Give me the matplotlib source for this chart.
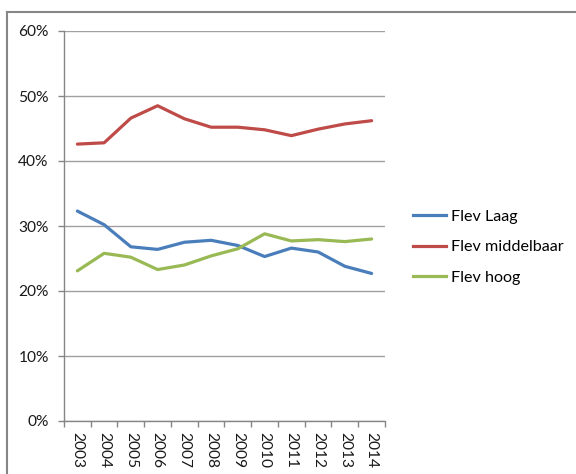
import matplotlib
matplotlib.use("Agg")
import matplotlib.pyplot as plt
from matplotlib.lines import Line2D
from matplotlib.ticker import FixedLocator, NullFormatter

plt.rcParams['font.family'] = ['Lato', 'DejaVu Sans']

years = ["2003", "2004", "2005", "2006", "2007", "2008",
         "2009", "2010", "2011", "2012", "2013", "2014"]
flev_laag = [32.3, 30.2, 26.8, 26.4, 27.5, 27.8, 27.0, 25.3, 26.6, 26.0, 23.8, 22.7]
flev_middelbaar = [42.6, 42.8, 46.6, 48.5, 46.5, 45.2, 45.2, 44.8, 43.9, 44.9, 45.7, 46.2]
flev_hoog = [23.1, 25.8, 25.2, 23.3, 24.0, 25.4, 26.5, 28.8, 27.7, 27.9, 27.6, 28.0]
y_ticks = [0, 10, 20, 30, 40, 50, 60]

series = [
    ("Flev Laag", flev_laag, "#4A7EBB"),
    ("Flev middelbaar", flev_middelbaar, "#BE4B48"),
    ("Flev hoog", flev_hoog, "#98B954"),
]

grey = "#868686"
grid_grey = "#a0a0a0"
text_col = "#1a1a1a"

fig = plt.figure(figsize=(5.76, 4.74), dpi=100)
ax = fig.add_axes([64 / 576, 1 - 421 / 474, (385 - 64) / 576, (421 - 31) / 474])

x = list(range(len(years)))
for name, vals, col in series:
    ax.plot(x, vals, color=col, lw=2.3, label=name, solid_capstyle='round',
            solid_joinstyle='round', zorder=3)

ax.set_xlim(-0.5, len(years) - 0.5)
ax.set_ylim(0, 60)

ax.set_yticks(y_ticks)
ax.set_yticklabels([f"{v}%" for v in y_ticks], fontsize=11.2, color=text_col)
ax.yaxis.grid(True, color=grid_grey, lw=1.0)
ax.set_axisbelow(True)

ax.set_xticks(x)
ax.set_xticklabels(years, rotation=-90, fontsize=11.2, color=text_col)
ax.tick_params(axis='x', which='major', length=0, pad=8)
ax.xaxis.set_minor_locator(FixedLocator([i - 0.5 for i in range(len(years) + 1)]))
ax.xaxis.set_minor_formatter(NullFormatter())
ax.tick_params(axis='x', which='minor', length=4, color=grey, width=1.0)
ax.tick_params(axis='y', length=4, color=grey, width=1.0, pad=7)

for side in ("top", "right"):
    ax.spines[side].set_visible(False)
for side in ("left", "bottom"):
    ax.spines[side].set_color(grey)
    ax.spines[side].set_linewidth(1.0)

handles = [Line2D([0], [0], color=c, lw=2.3) for _, _, c in series]
fig.legend(handles, [n for n, _, _ in series], loc="upper left",
           bbox_to_anchor=(398 / 576, 1 - 195 / 474), frameon=False,
           fontsize=11.6, handlelength=2.1, handletextpad=0.3,
           labelspacing=1.0)

# chart-area frame
fig.add_artist(Line2D([7 / 576, 7 / 576], [0, 1 - 12 / 474],
                      transform=fig.transFigure, color=grey, lw=1.5))
fig.add_artist(Line2D([7 / 576, 1], [1 - 12 / 474, 1 - 12 / 474],
                      transform=fig.transFigure, color=grey, lw=1.5))

fig.savefig("out.png", dpi=100)
